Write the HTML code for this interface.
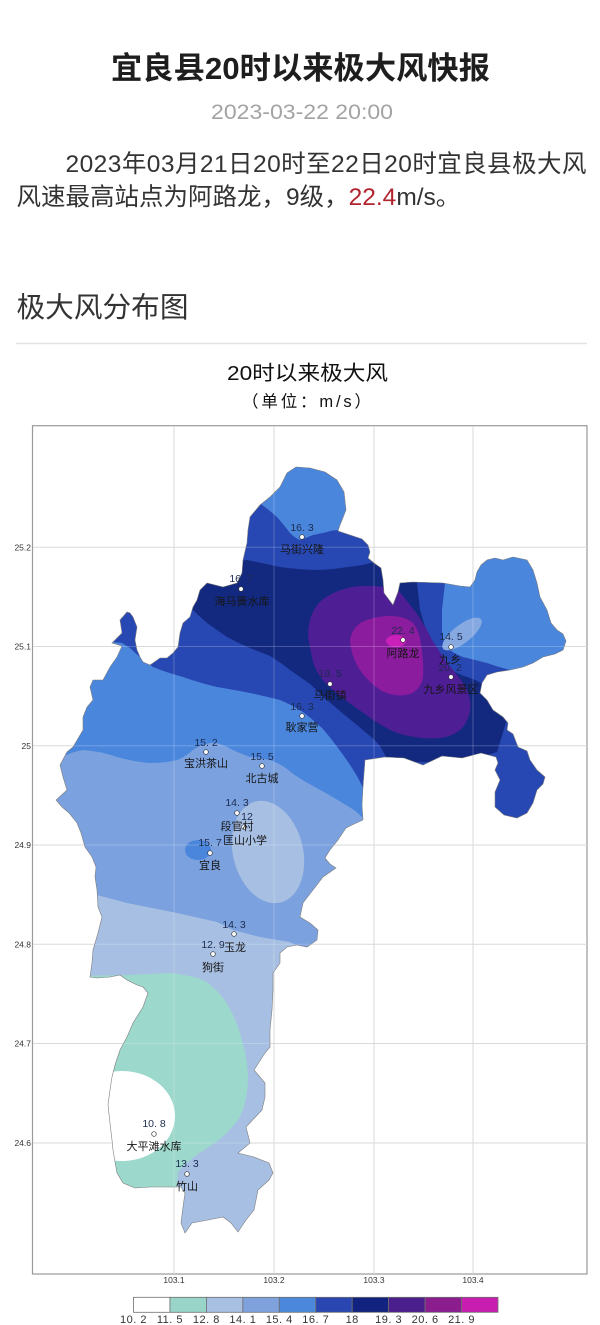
<!DOCTYPE html>
<html><head><meta charset="utf-8">
<style>
html,body{margin:0;padding:0;background:#fff;}
body{width:600px;height:1325px;overflow:hidden;}
svg{display:block;}
.cjk{font-family:"Liberation Sans","Noto Sans CJK SC",sans-serif;}
.val{font-family:"Liberation Sans","Noto Sans CJK SC",sans-serif;font-size:10.5px;fill:#1c2b4f;text-anchor:middle;}
.nm{font-family:"Liberation Sans","Noto Sans CJK SC",sans-serif;font-size:11px;fill:#161616;text-anchor:middle;}
.tk{font-family:"Liberation Sans",sans-serif;font-size:8.5px;fill:#333;}
.cb{font-family:"Liberation Sans",sans-serif;font-size:11px;letter-spacing:0.5px;fill:#333;text-anchor:middle;}
</style></head>
<body>
<svg width="600" height="1325" viewBox="0 0 600 1325" xmlns="http://www.w3.org/2000/svg">
<defs>
<clipPath id="cp">
<polygon id="outlineP" points="296,467 310,468 325,472 337,480 344,492 346,510 340,525 338,531 350,535 362,539 368,545 370,552 368,558 374,563 381,568 383,580 384,593 393,605 398,592 400,583 413,582 443,583 460,586 470,587 475,580 477,572 481,565 487,560 495,558 503,560 513,557 527,560 533,570 537,583 540,597 547,610 551,623 557,630 563,634 566,641 563,650 555,654 543,657 533,663 523,667 510,670 497,672 487,675 482,683 480,693 487,700 493,710 503,717 508,723 507,730 513,734 518,747 527,751 530,760 537,770 545,777 543,784 537,790 533,803 527,813 517,818 504,815 495,807 495,792 500,780 495,770 498,763 496,757 481,753 462,758 442,756 423,765 404,758 385,757 365,760 363,787 362,805 363,820 352,825 346,828 338,840 330,850 325,858 330,864 336,868 323,877 313,890 303,903 300,917 310,923 318,930 317,940 307,947 297,945 287,947 280,953 280,963 273,973 273,990 272,1010 270,1030 270,1047 265,1053 254,1070 265,1083 265,1097 262,1110 246,1127 250,1143 238,1153 254,1157 269,1163 273,1173 269,1180 258,1190 254,1210 246,1220 238,1232 231,1223 223,1217 208,1220 192,1223 185,1233 181,1223 183,1207 185,1193 181,1187 165,1187 150,1187 135,1188 123,1183 117,1173 115,1162 113,1150 112,1140 110,1123 108,1105 110,1090 112,1077 115,1065 120,1050 127,1037 133,1023 143,1007 148,993 143,987 137,985 127,980 120,975 110,977 97,978 90,977 92,963 93,950 98,933 102,917 98,907 97,890 95,877 96,867 92,857 85,847 81,833 77,823 69,813 62,807 56,800 67,790 63,777 60,765 67,752 73,747 83,730 83,717 87,707 93,700 90,687 93,680 103,680 110,667 117,657 122,646 112,643 122,633 120,620 127,612 130,613 133,617 137,627 135,640 137,650 140,657 143,662 150,665 153,663 160,658 167,658 173,653 178,647 180,633 183,623 190,617 193,607 197,600 200,590 207,583 223,587 237,583 242,573 243,560 247,543 248,530 250,517 260,505 270,497 280,487 287,473"/>
</clipPath>
</defs>

<!-- header texts -->
<text class="cjk" x="111" y="79" font-size="31" font-weight="bold" fill="#1e1e1e" textLength="379" lengthAdjust="spacingAndGlyphs">宜良县20时以来极大风快报</text>
<text x="211" y="119" font-family="Liberation Sans, sans-serif" font-size="21" fill="#a3a3a3" textLength="182" lengthAdjust="spacingAndGlyphs">2023-03-22 20:00</text>
<text class="cjk" x="65.5" y="172" font-size="24.5" fill="#333" textLength="521" lengthAdjust="spacing">2023年03月21日20时至22日20时宜良县极大风</text>
<text class="cjk" x="16.5" y="205" font-size="24.5" fill="#333">风速最高站点为阿路龙，9级，<tspan fill="#b1232d">22.4</tspan>m/s。</text>
<text class="cjk" x="16.5" y="317" font-size="28.5" fill="#333" textLength="172" lengthAdjust="spacingAndGlyphs">极大风分布图</text>
<line x1="16" y1="343.5" x2="587" y2="343.5" stroke="#e2e2e2" stroke-width="1.5"/>

<text class="cjk" x="227" y="380" font-size="20.5" fill="#111" textLength="161" lengthAdjust="spacingAndGlyphs">20时以来极大风</text>
<text class="cjk" x="242" y="407" font-size="16.5" fill="#111" textLength="129" lengthAdjust="spacing">（单位：m/s）</text>

<!-- frame & grid (under) -->
<rect x="32.5" y="425.7" width="554.5" height="848.3" fill="#fff" stroke="#9a9a9a" stroke-width="1.2"/>
<g stroke="#dadada" stroke-width="1">
<line x1="174" y1="426" x2="174" y2="1274"/>
<line x1="274" y1="426" x2="274" y2="1274"/>
<line x1="374" y1="426" x2="374" y2="1274"/>
<line x1="473" y1="426" x2="473" y2="1274"/>
<line x1="33" y1="547.3" x2="587" y2="547.3"/>
<line x1="33" y1="646.5" x2="587" y2="646.5"/>
<line x1="33" y1="745.8" x2="587" y2="745.8"/>
<line x1="33" y1="845" x2="587" y2="845"/>
<line x1="33" y1="944.3" x2="587" y2="944.3"/>
<line x1="33" y1="1043.5" x2="587" y2="1043.5"/>
<line x1="33" y1="1143" x2="587" y2="1143"/>
</g>

<!-- map fills -->
<g clip-path="url(#cp)">
<rect x="0" y="400" width="600" height="900" fill="#7ba1de"/>
<polygon fill="#a7bfe2" points="0,893 97,895 127,903 177,913 217,922 233,930 260,937 290,942 305,950 330,955 600,955 600,1300 0,1300"/>
<path fill="#9dd8cc" d="M0,977 L127,975 L170,973 Q195,976 205,981 Q218,990 226,1002 Q236,1018 242,1040 Q248,1060 248,1080 Q247,1105 238,1120 Q225,1138 204,1150 Q188,1160 178,1172 L172,1240 L0,1240 Z"/>
<ellipse cx="122" cy="1116" rx="53" ry="45" fill="#ffffff"/>
<ellipse cx="268" cy="852" rx="35" ry="52" transform="rotate(-14 268 852)" fill="#a7bfe2"/>
<path fill="#4a86dc" d="M0,400 L600,400 L600,830 L372,830 L365,820 Q358,813 354,810 Q340,801 315,787 Q300,779 292,773 Q282,764 270,760 Q258,758 250,757 Q236,752 227,747 Q218,742 210,743 Q200,745 193,750 Q185,757 177,760 Q165,763 150,763 Q135,762 117,757 Q100,751 83,750 Q70,752 57,760 L0,760 Z"/>
<ellipse cx="198" cy="850" rx="13" ry="10" fill="#4a86dc"/>
<path fill="#2747b2" d="M0,400 L600,400 L600,840 L372,840 L366,795 Q360,780 352,768 Q345,757 338,748 Q330,737 322,728 Q312,719 303,712 Q292,705 280,700 Q265,696 250,693 Q235,690 217,687 Q200,683 183,677 Q165,672 153,667 Q140,658 130,648 L122,643 L0,630 Z"/>
<path fill="#13297f" d="M150,595 L181,615 L193,610 Q200,617 207,623 Q217,630 227,637 Q238,643 250,648 Q260,652 270,656 Q280,662 290,670 Q300,677 310,684 Q317,690 323,697 Q332,704 340,711 Q348,718 357,725 Q364,731 370,736 Q376,741 380,746 Q385,754 388,762 L505,762 L506,720 Q500,710 495,702 Q490,692 483,684 Q476,680 470,678 Q463,676 457,673 Q449,669 443,663 Q437,657 433,650 Q429,641 427,633 Q423,620 420,610 L417,583 L417,560 L375,562 Q360,566 347,567 Q330,570 313,570 Q295,569 280,567 Q262,563 247,560 L230,562 Z"/>
<path fill="#4a86dc" d="M230,440 L360,440 L360,531 L340,530 Q333,530 327,532 Q318,534 313,535 Q306,538 300,540 Q295,538 290,533 Q283,524 277,517 Q267,508 255,500 L230,490 Z"/>
<path fill="#4a86dc" d="M445,540 L600,540 L600,662 L527,668 Q518,670 510,670 Q498,667 487,663 Q475,660 463,657 Q452,653 447,647 Q442,640 442,630 L442,610 L445,583 Z"/>
<ellipse cx="462" cy="634" rx="24" ry="9" transform="rotate(-38 462 634)" fill="#87a9e2"/>
<polygon fill="#2747b2" points="508,716 560,716 560,830 470,830 470,760 497,752"/>
<path fill="#4e1e95" d="M308,637 Q308,612 322,600 Q338,588 360,586 Q380,585 398,590 Q404,597 410,605 Q417,613 422,622 Q428,631 432,640 Q440,652 447,663 Q456,673 463,683 Q468,691 470,700 Q472,715 463,727 Q455,736 440,738 Q420,740 397,733 Q380,726 365,714 Q347,702 333,690 Q318,678 313,662 Z"/>
<path fill="#8c1c9e" d="M350,640 Q352,628 362,622 Q375,616 390,616 Q405,616 413,623 Q420,632 421,645 Q424,662 423,678 Q420,690 410,694 Q397,698 382,691 Q368,682 360,670 Q351,656 350,640 Z"/>
<ellipse cx="396" cy="641" rx="10" ry="6" fill="#c820b8"/>
</g>
<use href="#outlineP" fill="none" stroke="#7f7f7f" stroke-width="0.6"/>

<g stroke="#ffffff" stroke-opacity="0.22" stroke-width="1" clip-path="url(#cp)">
<line x1="174" y1="426" x2="174" y2="1274"/>
<line x1="274" y1="426" x2="274" y2="1274"/>
<line x1="374" y1="426" x2="374" y2="1274"/>
<line x1="473" y1="426" x2="473" y2="1274"/>
<line x1="33" y1="547.3" x2="587" y2="547.3"/>
<line x1="33" y1="646.5" x2="587" y2="646.5"/>
<line x1="33" y1="745.8" x2="587" y2="745.8"/>
<line x1="33" y1="845" x2="587" y2="845"/>
<line x1="33" y1="944.3" x2="587" y2="944.3"/>
<line x1="33" y1="1043.5" x2="587" y2="1043.5"/>
<line x1="33" y1="1143" x2="587" y2="1143"/>
</g>

<!-- stations -->
<g fill="#fff" stroke="#333" stroke-width="0.7">
<circle cx="302" cy="537" r="2.3"/>
<circle cx="241" cy="589" r="2.3"/>
<circle cx="403" cy="640" r="2.3"/>
<circle cx="451" cy="647" r="2.3"/>
<circle cx="451" cy="677" r="2.3"/>
<circle cx="330" cy="684" r="2.3"/>
<circle cx="302" cy="716" r="2.3"/>
<circle cx="206" cy="752" r="2.3"/>
<circle cx="262" cy="766" r="2.3"/>
<circle cx="237" cy="813" r="2.3"/>
<circle cx="244" cy="827" r="2.3"/>
<circle cx="210" cy="853" r="2.3"/>
<circle cx="234" cy="934" r="2.3"/>
<circle cx="213" cy="954" r="2.3"/>
<circle cx="154" cy="1134" r="2.3"/>
<circle cx="187" cy="1174" r="2.3"/>
</g>
<g>
<text class="val" x="302" y="531">16. 3</text><text class="nm" x="302" y="553">马街兴隆</text>
<text class="val" x="241" y="582">16. 7</text><text class="nm" x="242" y="605">海马簧水库</text>
<text class="val" x="403" y="634">22. 4</text><text class="nm" x="403" y="657">阿路龙</text>
<text class="val" x="451" y="640">14. 5</text><text class="nm" x="450" y="663">九乡</text>
<text class="val" x="450" y="671">20. 2</text><text class="nm" x="451" y="693">九乡风景区</text>
<text class="val" x="330" y="677">19. 5</text><text class="nm" x="330" y="699">马街镇</text>
<text class="val" x="302" y="710">16. 3</text><text class="nm" x="302" y="731">耿家营</text>
<text class="val" x="206" y="746">15. 2</text><text class="nm" x="206" y="767">宝洪茶山</text>
<text class="val" x="262" y="760">15. 5</text><text class="nm" x="262" y="782">北古城</text>
<text class="val" x="237" y="806">14. 3</text><text class="nm" x="237" y="830">段官村</text>
<text class="val" x="247" y="820">12</text><text class="nm" x="245" y="844">匡山小学</text>
<text class="val" x="210" y="846">15. 7</text><text class="nm" x="210" y="869">宜良</text>
<text class="val" x="234" y="928">14. 3</text><text class="nm" x="235" y="951">玉龙</text>
<text class="val" x="213" y="948">12. 9</text><text class="nm" x="213" y="971">狗街</text>
<text class="val" x="154" y="1127">10. 8</text><text class="nm" x="154" y="1150">大平滩水库</text>
<text class="val" x="187" y="1167">13. 3</text><text class="nm" x="187" y="1190">竹山</text>
</g>

<!-- axis labels -->
<g class="tk" text-anchor="end">
<text x="31" y="550.3">25.2</text>
<text x="31" y="649.5">25.1</text>
<text x="31" y="748.8">25</text>
<text x="31" y="848">24.9</text>
<text x="31" y="947.3">24.8</text>
<text x="31" y="1046.5">24.7</text>
<text x="31" y="1146">24.6</text>
</g>
<g class="tk" text-anchor="middle">
<text x="174" y="1283">103.1</text>
<text x="274" y="1283">103.2</text>
<text x="374" y="1283">103.3</text>
<text x="473" y="1283">103.4</text>
</g>

<!-- colorbar -->
<g stroke="#6e6e6e" stroke-width="0.8">
<rect x="133.5" y="1297.3" width="36.45" height="15" fill="#ffffff"/>
<rect x="169.95" y="1297.3" width="36.45" height="15" fill="#98d5c8"/>
<rect x="206.4" y="1297.3" width="36.45" height="15" fill="#a8c0e1"/>
<rect x="242.85" y="1297.3" width="36.45" height="15" fill="#7fa2dc"/>
<rect x="279.3" y="1297.3" width="36.45" height="15" fill="#4b88dc"/>
<rect x="315.75" y="1297.3" width="36.45" height="15" fill="#2a46b0"/>
<rect x="352.2" y="1297.3" width="36.45" height="15" fill="#11237e"/>
<rect x="388.65" y="1297.3" width="36.45" height="15" fill="#4a1f8c"/>
<rect x="425.1" y="1297.3" width="36.45" height="15" fill="#8b1d8f"/>
<rect x="461.55" y="1297.3" width="36.45" height="15" fill="#c81eb0"/>
</g>
<g class="cb">
<text x="133.5" y="1323">10. 2</text>
<text x="169.95" y="1323">11. 5</text>
<text x="206.4" y="1323">12. 8</text>
<text x="242.85" y="1323">14. 1</text>
<text x="279.3" y="1323">15. 4</text>
<text x="315.75" y="1323">16. 7</text>
<text x="352.2" y="1323">18</text>
<text x="388.65" y="1323">19. 3</text>
<text x="425.1" y="1323">20. 6</text>
<text x="461.55" y="1323">21. 9</text>
</g>
</svg>
</body></html>
